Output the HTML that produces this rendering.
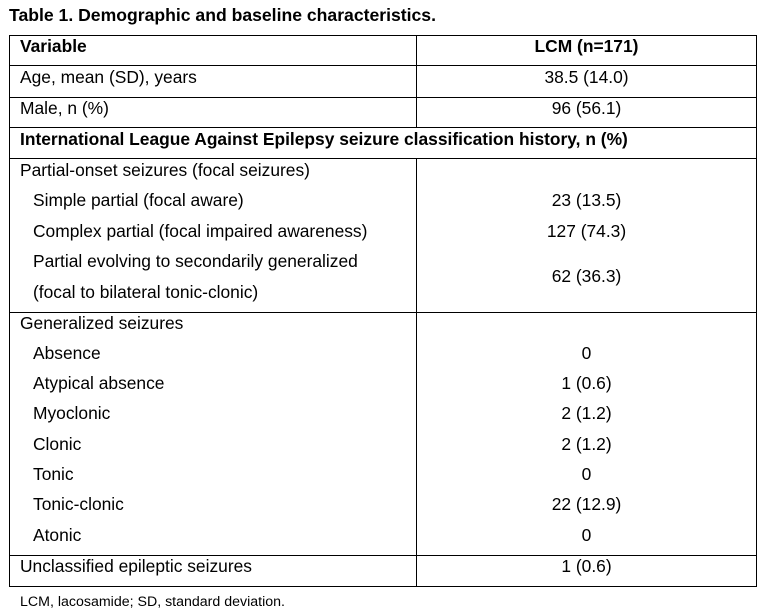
<!DOCTYPE html><html><head><style>
body{margin:0;width:767px;height:616px;background:#fff;position:relative;font-family:"Liberation Sans",Arial,sans-serif;color:#000;overflow:hidden}
.t{position:absolute;font-size:17.4px;line-height:20px;white-space:nowrap}
.c{position:absolute;left:417px;width:339px;text-align:center;font-size:17.4px;line-height:20px}
.h{position:absolute;height:1px;background:#000;left:9px;width:748px}
.v{position:absolute;width:1px;background:#000}
</style></head><body>
<div class="t" style="left:9px;top:5px;font-weight:bold;font-size:17.6px">Table 1. Demographic and baseline characteristics.</div>
<div class="h" style="top:35px"></div><div class="h" style="top:65px"></div><div class="h" style="top:97px"></div><div class="h" style="top:127px"></div><div class="h" style="top:158px"></div><div class="h" style="top:312px"></div><div class="h" style="top:555px"></div><div class="h" style="top:586px"></div>
<div class="v" style="left:9px;top:35px;height:552px"></div>
<div class="v" style="left:756px;top:35px;height:552px"></div>
<div class="v" style="left:416px;top:35px;height:93px"></div>
<div class="v" style="left:416px;top:158px;height:429px"></div>
<div class="t" style="left:20px;top:36px;font-weight:bold">Variable</div><div class="c" style="top:36px;font-weight:bold">LCM (n=171)</div>
<div class="t" style="left:20px;top:67px">Age, mean (SD), years</div><div class="c" style="top:67px">38.5 (14.0)</div>
<div class="t" style="left:20px;top:98px">Male, n (%)</div><div class="c" style="top:98px">96 (56.1)</div>
<div class="t" style="left:20px;top:129px;font-weight:bold">International League Against Epilepsy seizure classification history, n (%)</div>
<div class="t" style="left:20px;top:160px">Partial-onset seizures (focal seizures)</div>
<div class="t" style="left:33px;top:190px">Simple partial (focal aware)</div><div class="c" style="top:190px">23 (13.5)</div>
<div class="t" style="left:33px;top:221px">Complex partial (focal impaired awareness)</div><div class="c" style="top:221px">127 (74.3)</div>
<div class="t" style="left:33px;top:251px">Partial evolving to secondarily generalized</div>
<div class="t" style="left:33px;top:282px">(focal to bilateral tonic-clonic)</div><div class="c" style="top:266px">62 (36.3)</div>
<div class="t" style="left:20px;top:313px">Generalized seizures</div>
<div class="t" style="left:33px;top:343px">Absence</div><div class="c" style="top:343px">0</div>
<div class="t" style="left:33px;top:373px">Atypical absence</div><div class="c" style="top:373px">1 (0.6)</div>
<div class="t" style="left:33px;top:403px">Myoclonic</div><div class="c" style="top:403px">2 (1.2)</div>
<div class="t" style="left:33px;top:434px">Clonic</div><div class="c" style="top:434px">2 (1.2)</div>
<div class="t" style="left:33px;top:464px">Tonic</div><div class="c" style="top:464px">0</div>
<div class="t" style="left:33px;top:494px">Tonic-clonic</div><div class="c" style="top:494px">22 (12.9)</div>
<div class="t" style="left:33px;top:525px">Atonic</div><div class="c" style="top:525px">0</div>
<div class="t" style="left:20px;top:556px">Unclassified epileptic seizures</div><div class="c" style="top:556px">1 (0.6)</div>
<div class="t" style="left:20px;top:592px;font-size:14.2px">LCM, lacosamide; SD, standard deviation.</div>
</body></html>
